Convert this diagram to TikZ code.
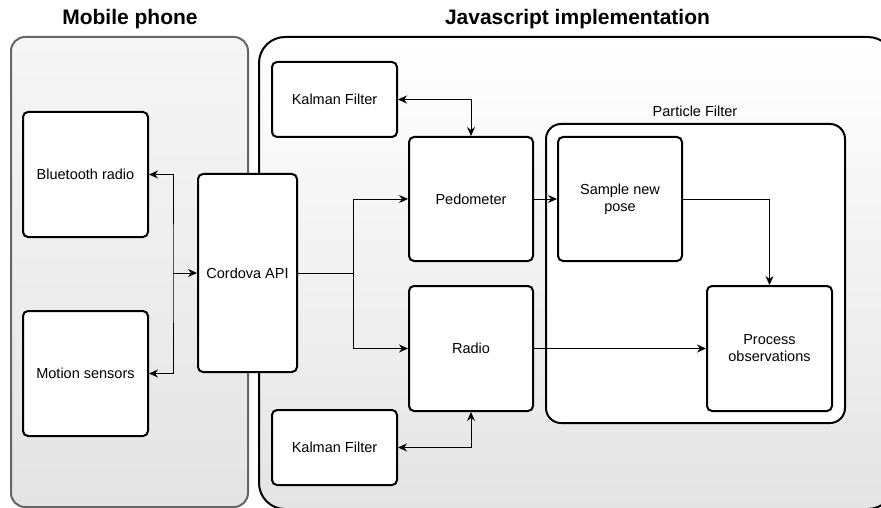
\documentclass[tikz,border=0pt]{standalone}
\usepackage{fontspec}
\setmainfont{Liberation Sans}
\usetikzlibrary{arrows.meta}
\definecolor{panelgray}{HTML}{666666}
\definecolor{shadelow}{HTML}{E4E4E4}
\definecolor{shadehigh}{HTML}{F6F6F6}
\tikzset{
  x=1pt, y=-1pt,
  block/.style={draw=black, line width=2pt, fill=white, rounded corners=5pt,
    align=center, inner sep=2pt, font=\fontsize{14.5}{17}\selectfont},
  conn/.style={draw=black, line width=1pt,
    arrows={-}, >={Stealth[length=9pt,width=8pt,inset=3pt]}},
  title/.style={font=\fontsize{21}{24}\bfseries\selectfont},
  caption/.style={font=\fontsize{14.5}{17}\selectfont}
}
\begin{document}
\begin{tikzpicture}
\useasboundingbox (0,0) rectangle (881,508);
\clip (0,0) rectangle (881,508);
\fill[white] (0,0) rectangle (881,508);

% containers
\path[draw=panelgray, line width=2pt, rounded corners=14pt,
  top color=shadehigh, bottom color=shadelow] (11,37) rectangle (248,507);
\path[draw=black, line width=2pt, rounded corners=26pt,
  top color=white, bottom color=shadelow] (259,37) rectangle (894,509);
\node[title] (tphone) at (130,19) {Mobile phone};
\node[title] (tjs) at (577.5,19) {Javascript implementation};

% particle filter group
\path[draw=black, line width=2pt, fill=white, rounded corners=15pt]
  (546,124) rectangle (845,423);
\node[caption] (tpf) at (695,111) {Particle Filter};

% blocks
\node[block, minimum width=125pt, minimum height=125pt] (bt) at (85.5,174.5) {Bluetooth radio};
\node[block, minimum width=125pt, minimum height=125pt] (ms) at (85.5,373.5) {Motion sensors};
\node[block, minimum width=99pt, minimum height=198pt] (cor) at (247.5,273) {Cordova API};
\node[block, minimum width=125pt, minimum height=75pt] (kt) at (334.5,99.5) {Kalman Filter};
\node[block, minimum width=125pt, minimum height=75pt] (kb) at (334.5,447.5) {Kalman Filter};
\node[block, minimum width=124pt, minimum height=124pt] (ped) at (471,199) {Pedometer};
\node[block, minimum width=124pt, minimum height=125pt] (rad) at (471,348.5) {Radio};
\node[block, minimum width=124pt, minimum height=124pt] (smp) at (620,199) {Sample new\\pose};
\node[block, minimum width=125pt, minimum height=125pt] (prc) at (769.5,348.5) {Process\\observations};

% connectors
\coordinate (splitL) at (173,273);
\coordinate (splitR) at (353,273);
\draw[conn,<->] (bt.east) -| (splitL) |- (ms.east);
\draw[conn,->] (splitL) -- (cor.west);
\draw[conn] (cor.east) -- (splitR);
\draw[conn,->] (splitR) |- (ped.west);
\draw[conn,->] (splitR) |- (rad.west);
\draw[conn,<->] (kt.east) -| (ped.north);
\draw[conn,<->] (kb.east) -| (rad.south);
\draw[conn,->] (ped.east) -- (smp.west);
\draw[conn,->] (smp.east) -| (prc.north);
\draw[conn,->] (rad.east) -- (prc.west);
\end{tikzpicture}
\end{document}
